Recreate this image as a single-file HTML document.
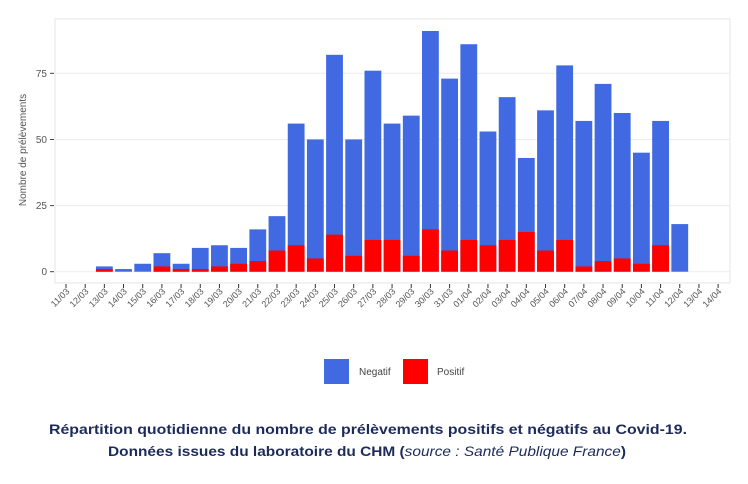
<!DOCTYPE html>
<html><head><meta charset="utf-8"><style>
html,body{margin:0;padding:0;background:#fff;}
svg{display:block;font-family:"Liberation Sans",Arial,sans-serif;}
</style></head><body>
<svg width="748" height="484" viewBox="0 0 748 484" xmlns="http://www.w3.org/2000/svg">
<rect x="0" y="0" width="748" height="484" fill="#fff"/>
<rect x="55" y="19" width="675" height="264" fill="#fff" stroke="#e6e6e6" stroke-width="1"/>
<g stroke="#ececec" stroke-width="1">
<line x1="55" x2="730" y1="271.7" y2="271.7"/>
<line x1="55" x2="730" y1="205.6" y2="205.6"/>
<line x1="55" x2="730" y1="139.5" y2="139.5"/>
<line x1="55" x2="730" y1="73.3" y2="73.3"/>
</g>
<g font-size="10" fill="#555" text-anchor="end">
<text x="47" y="275">0</text>
<text x="47" y="209">25</text>
<text x="47" y="143">50</text>
<text x="47" y="77">75</text>
</g>
<g stroke="#444" stroke-width="1">
<line x1="50" x2="54" y1="271.7" y2="271.7"/><line x1="50" x2="54" y1="205.6" y2="205.6"/>
<line x1="50" x2="54" y1="139.5" y2="139.5"/><line x1="50" x2="54" y1="73.3" y2="73.3"/>
</g>
<text transform="translate(26,150) rotate(-90)" font-size="10" fill="#555" text-anchor="middle">Nombre de prélèvements</text>
<g id="bars"></g>
<g id="ticks" stroke="#333" stroke-width="1"></g>
<g font-size="9" fill="#555" text-anchor="end">
<text transform="translate(70,292) rotate(-45)">11/03</text>
<text transform="translate(89.2,292) rotate(-45)">12/03</text>
<text transform="translate(108.4,292) rotate(-45)">13/03</text>
<text transform="translate(127.5,292) rotate(-45)">14/03</text>
<text transform="translate(146.7,292) rotate(-45)">15/03</text>
<text transform="translate(165.9,292) rotate(-45)">16/03</text>
<text transform="translate(185.1,292) rotate(-45)">17/03</text>
<text transform="translate(204.3,292) rotate(-45)">18/03</text>
<text transform="translate(223.4,292) rotate(-45)">19/03</text>
<text transform="translate(242.6,292) rotate(-45)">20/03</text>
<text transform="translate(261.8,292) rotate(-45)">21/03</text>
<text transform="translate(281,292) rotate(-45)">22/03</text>
<text transform="translate(300.2,292) rotate(-45)">23/03</text>
<text transform="translate(319.3,292) rotate(-45)">24/03</text>
<text transform="translate(338.5,292) rotate(-45)">25/03</text>
<text transform="translate(357.7,292) rotate(-45)">26/03</text>
<text transform="translate(376.9,292) rotate(-45)">27/03</text>
<text transform="translate(396.1,292) rotate(-45)">28/03</text>
<text transform="translate(415.2,292) rotate(-45)">29/03</text>
<text transform="translate(434.4,292) rotate(-45)">30/03</text>
<text transform="translate(453.6,292) rotate(-45)">31/03</text>
<text transform="translate(472.8,292) rotate(-45)">01/04</text>
<text transform="translate(492,292) rotate(-45)">02/04</text>
<text transform="translate(511.1,292) rotate(-45)">03/04</text>
<text transform="translate(530.3,292) rotate(-45)">04/04</text>
<text transform="translate(549.5,292) rotate(-45)">05/04</text>
<text transform="translate(568.7,292) rotate(-45)">06/04</text>
<text transform="translate(587.9,292) rotate(-45)">07/04</text>
<text transform="translate(607,292) rotate(-45)">08/04</text>
<text transform="translate(626.2,292) rotate(-45)">09/04</text>
<text transform="translate(645.4,292) rotate(-45)">10/04</text>
<text transform="translate(664.6,292) rotate(-45)">11/04</text>
<text transform="translate(683.8,292) rotate(-45)">12/04</text>
<text transform="translate(702.9,292) rotate(-45)">13/04</text>
<text transform="translate(722.1,292) rotate(-45)">14/04</text>
</g>
<rect x="324" y="359" width="25" height="25" fill="#4169e1"/>
<text x="359" y="375" font-size="10" fill="#444">Negatif</text>
<rect x="403" y="359" width="25" height="25" fill="#ff0000"/>
<text x="437" y="375" font-size="10" fill="#444">Positif</text>
<g font-size="14" font-weight="bold" fill="#1c2b5a" text-anchor="middle">
<text x="368" y="434" textLength="638" lengthAdjust="spacingAndGlyphs">Répartition quotidienne du nombre de prélèvements positifs et négatifs au Covid-19.</text>
<text x="367" y="456" textLength="518" lengthAdjust="spacingAndGlyphs">Données issues du laboratoire du CHM (<tspan font-weight="normal" font-style="italic">source : Santé Publique France</tspan>)</text>
</g>
<script>
var tot=[0,0,2,1,3,7,3,9,10,9,16,21,56,50,82,50,76,56,59,91,73,86,53,66,43,61,78,57,71,60,45,57,18,0,0];
var pos=[0,0,1,0,0,2,1,1,2,3,4,8,10,5,14,6,12,12,6,16,8,12,10,12,15,8,12,2,4,5,3,10,0,0,0];
var ns="http://www.w3.org/2000/svg",b=document.getElementById("bars"),t=document.getElementById("ticks");
var y0=271.7,k=2.645;
function r(x,y,w,h,f){var e=document.createElementNS(ns,"rect");e.setAttribute("x",x);e.setAttribute("y",y);e.setAttribute("width",w);e.setAttribute("height",h);e.setAttribute("fill",f);b.appendChild(e);}
for(var i=0;i<35;i++){var c=66+19.18*i;
 var l=document.createElementNS(ns,"line");l.setAttribute("x1",c);l.setAttribute("x2",c);l.setAttribute("y1",284);l.setAttribute("y2",288);t.appendChild(l);
 if(tot[i]>0){r(c-8.4,y0-tot[i]*k,16.8,tot[i]*k,"#4169e1");}
 if(pos[i]>0){r(c-8.4,y0-pos[i]*k,16.8,pos[i]*k,"#ff0000");}
}
</script>
</svg>
</body></html>
